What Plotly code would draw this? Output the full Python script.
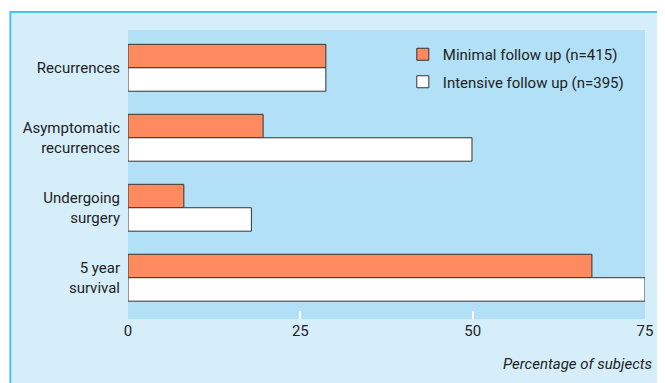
import plotly.graph_objects as go

categories = ["Recurrences", "Asymptomatic<br>recurrences", "Undergoing<br>surgery", "5 year<br>survival"]
minimal = [28.7, 19.6, 8.1, 67.3]
intensive = [28.7, 49.9, 17.9, 75.0]
series_names = ["Minimal follow up (n=415)", "Intensive follow up (n=395)"]
x_ticks = [0, 25, 50, 75]

FONT = "Roboto, Liberation Sans, sans-serif"
TXT = "#222222"

# page body has an 8px margin; compensate so page pixels match the reference
OFF = 8
W, H = 665 - OFF, 383 - OFF
L, R, T, B = 128 - OFF, 14, 30 - OFF, 64
pw, ph = W - L - R, H - T - B

def px_x(p):
    return (p - OFF - L) / pw

def px_y(p):
    return 1 - (p - OFF - T) / ph

fig = go.Figure()
fig.add_trace(go.Bar(y=categories, x=minimal, orientation="h", name=series_names[0],
                     legendgroup="a",
                     marker=dict(color="#ff8a60", line=dict(color="#333333", width=1))))
fig.add_trace(go.Bar(y=categories, x=intensive, orientation="h", name=series_names[1],
                     legendgroup="b",
                     marker=dict(color="#ffffff", line=dict(color="#333333", width=1))))

fig.update_layout(
    width=W, height=H,
    margin=dict(l=L, r=R, t=T, b=B, pad=0),
    paper_bgcolor="#ffffff",
    plot_bgcolor="rgba(0,0,0,0)",
    barmode="group", bargap=0.33, bargroupgap=0,
    font=dict(family=FONT, size=15, color=TXT),
    showlegend=True,
    legend=dict(x=px_x(406), y=px_y(38), xanchor="left", yanchor="top",
                bgcolor="rgba(0,0,0,0)", traceorder="grouped", tracegroupgap=5,
                font=dict(family=FONT, size=15, color=TXT),
                itemwidth=30),
    xaxis=dict(range=[0, 75], tickvals=x_ticks, ticks="inside", ticklen=8,
               tickcolor="#ffffff", tickwidth=2, showgrid=False, zeroline=False,
               showline=False, ticklabelstandoff=1,
               tickfont=dict(family=FONT, size=15, color=TXT)),
    yaxis=dict(autorange=False, range=[3.59, -0.54], showgrid=False, zeroline=False,
               showline=False, ticks="outside", ticklen=4, tickcolor="rgba(0,0,0,0)",
               tickfont=dict(family=FONT, size=15, color=TXT)),
    shapes=[
        dict(type="rect", xref="paper", yref="paper", layer="below",
             x0=px_x(9), x1=px_x(672), y0=px_y(392), y1=px_y(12),
             fillcolor="#d6eefa", line=dict(color="#4cc0ef", width=2)),
        dict(type="rect", xref="paper", yref="paper", layer="below",
             x0=0, x1=1, y0=0, y1=1, fillcolor="#b2e1f7", line=dict(width=0)),
    ],
    annotations=[
        dict(text="<i>Percentage of subjects</i>", xref="paper", yref="paper",
             x=px_x(660), y=px_y(364), xanchor="right", yanchor="middle",
             showarrow=False, font=dict(family=FONT, size=15, color=TXT)),
    ],
)

fig.write_html("out.html", config={"displayModeBar": False})
